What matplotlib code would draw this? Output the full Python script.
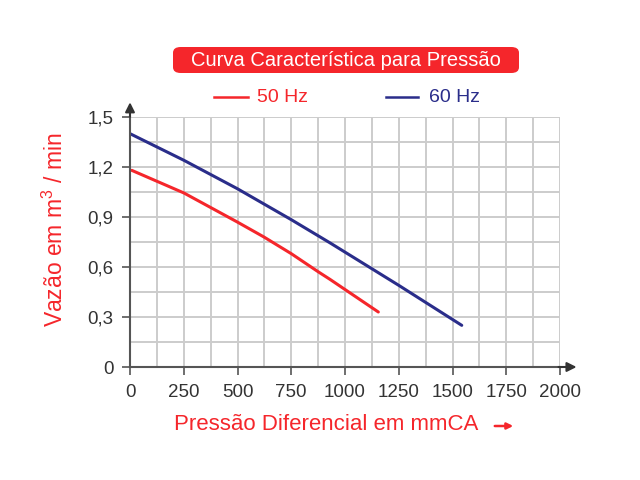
import matplotlib.pyplot as plt
from matplotlib.patches import FancyBboxPatch

plt.rcParams['font.family'] = ['Liberation Sans', 'DejaVu Sans']
plt.rcParams['mathtext.fontset'] = 'custom'
plt.rcParams['mathtext.rm'] = 'Liberation Sans'

# data
x_50hz = [8, 251, 499, 623, 750, 877, 930, 1155]
y_50hz = [1.18, 1.044, 0.87, 0.78, 0.68, 0.57, 0.526, 0.33]
x_60hz = [0, 251, 499, 750, 930, 1250, 1543]
y_60hz = [1.40, 1.24, 1.07, 0.884, 0.745, 0.49, 0.25]
x_ticks = [0, 250, 500, 750, 1000, 1250, 1500, 1750, 2000]
y_ticks = [0, 0.3, 0.6, 0.9, 1.2, 1.5]
y_tick_labels = ['0', '0,3', '0,6', '0,9', '1,2', '1,5']

red = '#f5262b'
blue = '#2a2d8a'
axis_col = '#555555'

fig = plt.figure(figsize=(6.4, 4.8), dpi=100)
ax = fig.add_axes([130 / 640, 1 - 367 / 480, 430 / 640, 250 / 480])

# grid (minor lines at half steps)
for gx in range(0, 2001, 125):
    ax.axvline(gx, color='#cccccc', lw=1.4, zorder=0)
for gy in [i * 0.15 for i in range(11)]:
    ax.axhline(gy, color='#cccccc', lw=1.4, zorder=0)

ax.plot(x_50hz, y_50hz, color=red, lw=2.2, solid_capstyle='round')
ax.plot(x_60hz, y_60hz, color=blue, lw=2.2, solid_capstyle='round')

ax.set_xlim(0, 2000)
ax.set_ylim(0, 1.5)
ax.set_xticks(x_ticks)
ax.set_yticks(y_ticks)
ax.set_yticklabels(y_tick_labels)
ax.tick_params(colors='#333333', labelsize=13.5, length=6, width=1.2)
ax.tick_params(axis='x', pad=6)
ax.tick_params(axis='y', pad=6)
ax.tick_params(axis='both', color=axis_col)

for side in ['top', 'right']:
    ax.spines[side].set_visible(False)
for side in ['left', 'bottom']:
    ax.spines[side].set_color(axis_col)
    ax.spines[side].set_linewidth(1.5)

# arrow heads on the axes
ax.annotate('', xy=(0, 1.07), xytext=(0, 0.99), xycoords='axes fraction',
            arrowprops=dict(arrowstyle='-|>', color='#333333', lw=1.5,
                            mutation_scale=14), annotation_clip=False)
ax.annotate('', xy=(1.045, 0), xytext=(0.99, 0), xycoords='axes fraction',
            arrowprops=dict(arrowstyle='-|>', color='#333333', lw=1.5,
                            mutation_scale=14), annotation_clip=False)

fig.text(55 / 640, 1 - 230 / 480, 'Vazão em m$^3$ / min', color=red,
         fontsize=16.5, rotation=90, ha='center', va='center')
fig.text(326 / 640, 1 - 425 / 480, 'Pressão Diferencial em mmCA', color=red,
         fontsize=16, ha='center', va='center')
ax.annotate('', xy=(516 / 640, 1 - 426 / 480), xytext=(492 / 640, 1 - 426 / 480),
            xycoords='figure fraction',
            arrowprops=dict(arrowstyle='-|>', color=red, lw=1.8, mutation_scale=9))

# title box
box = FancyBboxPatch((173 / 640, 1 - 73 / 480), 346 / 640, 26 / 480,
                     boxstyle='round,pad=0,rounding_size=0.012',
                     transform=fig.transFigure, facecolor=red, edgecolor='none')
fig.add_artist(box)
fig.text(346 / 640, 1 - 60 / 480, 'Curva Característica para Pressão',
         color='white', fontsize=14.5, ha='center', va='center')

# legend
fig.add_artist(plt.Line2D([214 / 640, 248 / 640], [1 - 97 / 480] * 2, color=red, lw=1.8))
fig.text(257 / 640, 1 - 97 / 480, '50 Hz', color=red, fontsize=14, va='center')
fig.add_artist(plt.Line2D([386 / 640, 418 / 640], [1 - 97 / 480] * 2, color=blue, lw=1.8))
fig.text(429 / 640, 1 - 97 / 480, '60 Hz', color=blue, fontsize=14, va='center')

fig.savefig('out.png', dpi=100)
